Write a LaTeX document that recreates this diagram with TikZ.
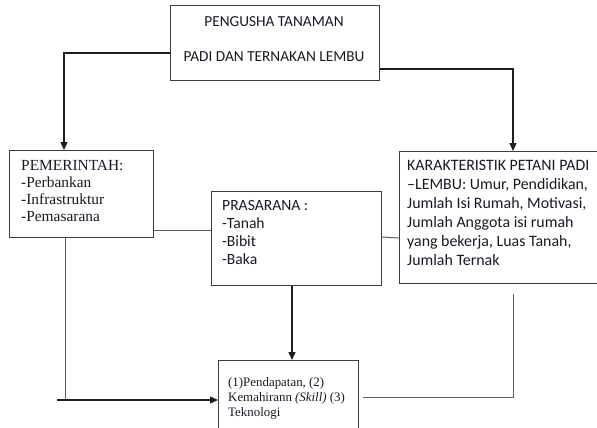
\documentclass[tikz,border=0pt]{standalone}
\usepackage{fontspec}
\setmainfont{Liberation Serif}
\newfontfamily\calfont{Carlito}
\newfontfamily\timesfont{Liberation Serif}
\usetikzlibrary{calc,arrows.meta}
\definecolor{boxline}{RGB}{60,60,60}
\definecolor{connline}{RGB}{95,95,95}
\definecolor{arrline}{RGB}{30,30,30}
\definecolor{txt}{RGB}{25,25,35}
\tikzset{
  boxnode/.style={draw=boxline, line width=1pt, rectangle, inner sep=0pt, anchor=north west},
  conn/.style={draw=connline, line width=1pt},
  arr/.style={draw=arrline, line width=1.3pt, -{Triangle[length=8pt,width=7pt]}},
  sanstext/.style={font=\calfont\fontsize{15.9}{19}\selectfont, text=txt, align=left, inner sep=0pt, anchor=north west},
  serftext/.style={font=\timesfont\fontsize{15.4}{17}\selectfont, text=txt, align=left, inner sep=0pt, anchor=north west}
}
\begin{document}
\begin{tikzpicture}[x=1pt,y=-1pt]
\useasboundingbox (0,0) rectangle (597,428);
\clip (0,0) rectangle (597,428);
% boxes
\node[boxnode, minimum width=209pt, minimum height=75pt] (top) at (170,5) {};
\node[boxnode, minimum width=144pt, minimum height=87pt] (pem) at (9,150) {};
\node[boxnode, minimum width=170pt, minimum height=94pt] (pras) at (211,191) {};
\node[boxnode, minimum width=205pt, minimum height=132pt] (kar) at (399,151) {};
\node[boxnode, minimum width=140pt, minimum height=90pt] (out) at (218,360) {};
% texts
\node[font=\calfont\fontsize{15.3}{18}\selectfont, text=txt, inner sep=0pt] (t1) at (274,22) {PENGUSHA TANAMAN};
\node[font=\calfont\fontsize{15.3}{18}\selectfont, text=txt, inner sep=0pt] (t2) at (274,57) {PADI DAN TERNAKAN LEMBU};
\node[serftext] (pemtext) at (21,160) {PEMERINTAH:\\-Perbankan\\-Infrastruktur\\-Pemasarana};
\node[sanstext, font=\calfont\fontsize{15.6}{18}\selectfont] (prastext) at (222,200) {PRASARANA :\\-Tanah\\-Bibit\\-Baka};
\node[sanstext] (kartext) at (407,160) {KARAKTERISTIK PETANI PADI\\–LEMBU: Umur, Pendidikan,\\Jumlah Isi Rumah, Motivasi,\\Jumlah Anggota isi rumah\\yang bekerja, Luas Tanah,\\Jumlah Ternak};
\node[serftext, font=\timesfont\fontsize{12.9}{15}\selectfont] (outtext) at (228,377) {(1)Pendapatan, (2)\\Kemahirann \textit{(Skill)} (3)\\Teknologi};
% coordinates
\coordinate (st) at (57,400);
% connectors
\draw[arr] ($(top.north west)+(0,48)$) -| ($(pem.north west)+(55,0)$);
\draw[arr] ($(top.north east)+(0,64)$) -| ($(kar.north west)+(114,0)$);
\draw[conn] ($(pem.north east)+(0,80)$) -- ($(pras.north west)+(0,39)$);
\draw[conn] ($(pras.north east)+(0,46)$) -- ($(kar.north west)+(0,87)$);
\draw[arr] ($(pras.south west)+(81,0)$) -- ($(out.north west)+(74,0)$);
\draw[conn] ($(pem.south west)+(56,0)$) -- ($(pem.south west)+(56,163)$);
\draw[arr] (st) -- ($(out.north west)+(0,40)$);
\draw[conn] ($(out.north east)+(4,37)$) -| ($(kar.south west)+(114,10)$);
\end{tikzpicture}
\end{document}
